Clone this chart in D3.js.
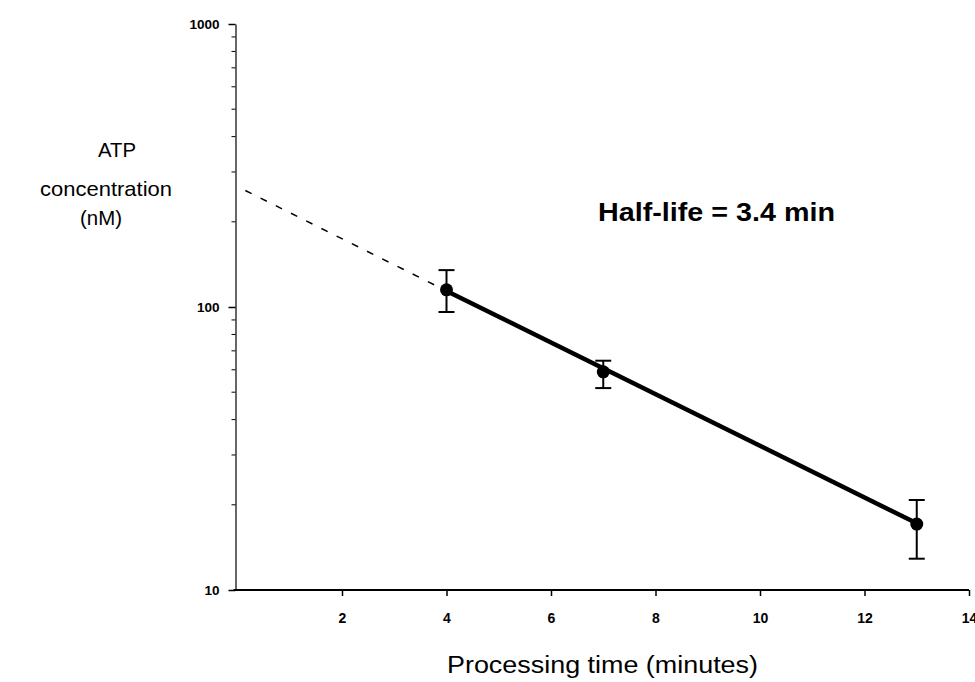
<!DOCTYPE html>
<html><head><meta charset="utf-8">
<script src="https://cdn.jsdelivr.net/npm/d3@7"></script>
<style>body{margin:0;background:#fff}svg{display:block}</style>
</head><body>
<svg id="c" width="975" height="682"></svg>
<script>
// Data
const times = [4, 7, 13];
const atp = [115, 59, 17.1];
const errHigh = [135, 64.6, 20.8];
const errLow = [96, 51.7, 12.9];
const fitDashedX = [0.15, 4];
const fitDashedY = [258, 114];
const fitSolidX = [4, 13];
const fitSolidY = [114, 17.2];
const xTicks = [2, 4, 6, 8, 10, 12, 14];
const yMajor = [10, 100, 1000];
const yMinor = [20, 30, 40, 50, 60, 70, 80, 90, 200, 300, 400, 500, 600, 700, 800, 900];
const annotation = "Half-life = 3.4 min";
const xTitle = "Processing time (minutes)";
const yTitle = ["ATP", "concentration", "(nM)"];

const svg = d3.select("#c");
const x = d3.scaleLinear().domain([0, 14]).range([237.5, 969]);
const y = d3.scaleLog().domain([10, 1000]).range([590, 24]);
const font = "Liberation Sans, Arial, sans-serif";

// X axis
const xa = svg.append("g").attr("transform", `translate(0,${y(10)})`)
  .call(d3.axisBottom(x).tickValues(xTicks).tickSize(6).tickSizeOuter(0).tickPadding(17));
xa.select(".domain").attr("stroke", "#000").attr("stroke-width", 2)
  .attr("d", `M${x(0) - 4},0H${x(14)}`);
xa.selectAll(".tick line").attr("stroke", "#000").attr("stroke-width", 1.5);
xa.selectAll(".tick text").attr("font-family", font)
  .attr("font-weight", "bold").attr("font-size", 14).attr("fill", "#000");

// Y axis
const ya = svg.append("g").attr("transform", `translate(${x(0) - 2},0)`)
  .call(d3.axisLeft(y).tickValues(yMajor).tickFormat(d3.format("d")).tickSize(7).tickSizeOuter(0).tickPadding(9));
ya.select(".domain").attr("stroke", "#000").attr("stroke-width", 1.2);
ya.selectAll(".tick line").attr("stroke", "#000").attr("stroke-width", 1.5);
ya.selectAll(".tick text").attr("font-family", font)
  .attr("font-weight", "bold").attr("font-size", 13.5).attr("fill", "#000");
ya.selectAll(".minor").data(yMinor).enter().append("line")
  .attr("class", "minor")
  .attr("x1", -4).attr("x2", 0)
  .attr("y1", d => y(d)).attr("y2", d => y(d))
  .attr("stroke", "#000").attr("stroke-width", 1);

// Fitted line
const line = d3.line().x(d => x(d[0])).y(d => y(d[1]));
svg.append("path").datum(d3.zip(fitDashedX, fitDashedY)).attr("d", line)
  .attr("fill", "none").attr("stroke", "#000").attr("stroke-width", 1.5)
  .attr("stroke-dasharray", "7,10");
svg.append("path").datum(d3.zip(fitSolidX, fitSolidY)).attr("d", line)
  .attr("fill", "none").attr("stroke", "#000").attr("stroke-width", 4.5);

// Error bars
const pts = times.map((t, i) => ({ t, v: atp[i], hi: errHigh[i], lo: errLow[i] }));
const eb = svg.append("g").selectAll("g").data(pts).enter().append("g");
eb.append("line").attr("x1", d => x(d.t)).attr("x2", d => x(d.t))
  .attr("y1", d => y(d.hi)).attr("y2", d => y(d.lo)).attr("stroke", "#000").attr("stroke-width", 2);
eb.append("line").attr("x1", d => x(d.t) - 8).attr("x2", d => x(d.t) + 8)
  .attr("y1", d => y(d.hi)).attr("y2", d => y(d.hi)).attr("stroke", "#000").attr("stroke-width", 2);
eb.append("line").attr("x1", d => x(d.t) - 8).attr("x2", d => x(d.t) + 8)
  .attr("y1", d => y(d.lo)).attr("y2", d => y(d.lo)).attr("stroke", "#000").attr("stroke-width", 2);
eb.append("circle").attr("cx", d => x(d.t)).attr("cy", d => y(d.v)).attr("r", 6.5).attr("fill", "#000");

// Texts
svg.append("text").attr("x", 598).attr("y", 221).attr("font-family", font)
  .attr("font-weight", "bold").attr("font-size", 25).attr("fill", "#000")
  .attr("textLength", 237).attr("lengthAdjust", "spacingAndGlyphs").text(annotation);
svg.append("text").attr("x", 447).attr("y", 673).attr("font-family", font)
  .attr("font-size", 23).attr("fill", "#000")
  .attr("textLength", 311).attr("lengthAdjust", "spacingAndGlyphs").text(xTitle);
const yPos = [[98, 157, 38], [40, 196, 132], [80, 225, 42]];
yTitle.forEach((t, i) => {
  svg.append("text").attr("x", yPos[i][0]).attr("y", yPos[i][1])
    .attr("font-family", font).attr("font-size", 21).attr("fill", "#000")
    .attr("textLength", yPos[i][2]).attr("lengthAdjust", "spacingAndGlyphs").text(t);
});
</script>
</body></html>
